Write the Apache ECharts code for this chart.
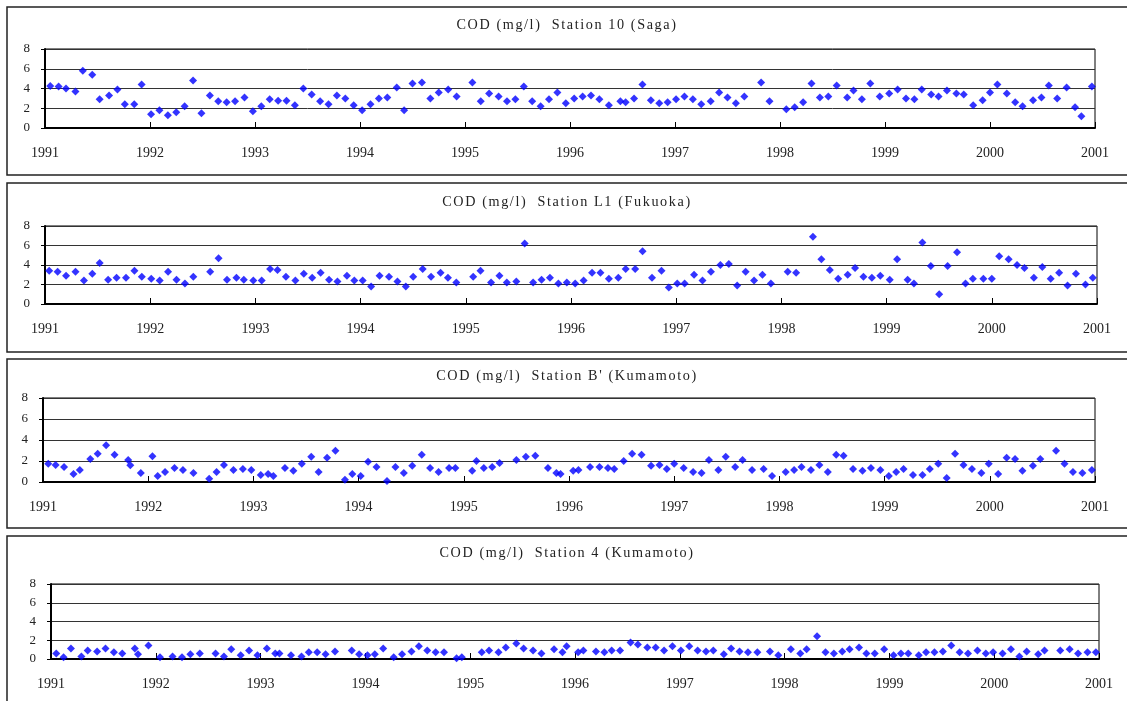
<!DOCTYPE html>
<html>
<head>
<meta charset="utf-8">
<script src="https://cdn.jsdelivr.net/npm/echarts@6/dist/echarts.min.js"></script>
<style>
  html, body { margin: 0; padding: 0; background: #fff; }
  #chart { width: 1127px; height: 701px; }
</style>
</head>
<body>
<div id="chart"></div>
<script>
// sampling dates (decimal years) and COD values, one pair of arrays per station
const sagaYear = [
  1991.05,1991.13,1991.20,1991.29,1991.36,1991.45,1991.52,1991.61,1991.69,1991.76,1991.85,1991.92,
  1992.01,1992.09,1992.17,1992.25,1992.33,1992.41,1992.49,1992.57,1992.65,1992.73,1992.81,1992.90,
  1992.98,1993.06,1993.14,1993.22,1993.30,1993.38,1993.46,1993.54,1993.62,1993.70,1993.78,1993.86,
  1993.94,1994.02,1994.10,1994.18,1994.26,1994.35,1994.42,1994.50,1994.59,1994.67,1994.75,1994.84,1994.92,
  1995.07,1995.15,1995.23,1995.32,1995.40,1995.48,1995.56,1995.64,1995.72,1995.80,1995.88,1995.96,
  1996.04,1996.12,1996.20,1996.28,1996.37,1996.48,1996.53,1996.61,1996.69,1996.77,1996.85,1996.93,
  1997.01,1997.09,1997.17,1997.25,1997.34,1997.42,1997.50,1997.58,1997.66,1997.82,1997.90,
  1998.06,1998.14,1998.22,1998.30,1998.38,1998.46,1998.54,1998.64,1998.70,1998.78,1998.86,1998.95,
  1999.04,1999.12,1999.20,1999.28,1999.35,1999.44,1999.51,1999.59,1999.68,1999.75,1999.84,1999.93,
  2000.00,2000.07,2000.16,2000.24,2000.31,2000.41,2000.49,2000.56,2000.64,2000.73,2000.81,2000.87,2000.97
];
const sagaCOD = [
  4.25,4.2,4.0,3.7,5.8,5.4,2.9,3.3,3.9,2.4,2.4,4.4,
  1.4,1.8,1.3,1.6,2.2,4.8,1.5,3.3,2.7,2.6,2.7,3.1,
  1.7,2.2,2.9,2.75,2.75,2.3,4.0,3.4,2.7,2.4,3.3,3.0,
  2.3,1.8,2.4,3.0,3.1,4.1,1.8,4.5,4.6,3.0,3.6,3.9,3.2,
  4.6,2.7,3.5,3.2,2.7,2.9,4.2,2.7,2.2,2.9,3.6,2.5,
  3.0,3.2,3.3,2.9,2.3,2.7,2.6,3.0,4.4,2.8,2.5,2.6,
  2.9,3.2,2.9,2.4,2.7,3.6,3.1,2.5,3.2,4.6,2.7,
  1.9,2.1,2.6,4.5,3.1,3.2,4.3,3.1,3.8,2.9,4.5,3.2,
  3.5,3.9,3.0,2.9,3.9,3.4,3.2,3.8,3.5,3.4,2.3,2.8,
  3.6,4.4,3.5,2.6,2.2,2.8,3.1,4.3,3.0,4.1,2.1,1.2,4.2
];

const fukuokaYear = [
  1991.04,1991.12,1991.20,1991.29,1991.37,1991.45,1991.52,1991.60,1991.68,1991.77,1991.85,1991.92,
  1992.01,1992.09,1992.17,1992.25,1992.33,1992.41,1992.57,1992.65,1992.73,1992.82,1992.89,1992.98,
  1993.06,1993.14,1993.21,1993.29,1993.38,1993.46,1993.54,1993.62,1993.70,1993.78,1993.87,1993.94,
  1994.02,1994.10,1994.18,1994.27,1994.35,1994.43,1994.50,1994.59,1994.67,1994.76,1994.83,1994.91,
  1995.07,1995.14,1995.24,1995.32,1995.39,1995.48,1995.56,1995.64,1995.72,1995.80,1995.88,1995.96,
  1996.04,1996.12,1996.20,1996.28,1996.36,1996.45,1996.52,1996.61,1996.68,1996.77,1996.86,1996.93,
  1997.01,1997.08,1997.17,1997.25,1997.33,1997.42,1997.50,1997.58,1997.66,1997.74,1997.82,1997.90,
  1998.06,1998.14,1998.30,1998.38,1998.46,1998.54,1998.63,1998.70,1998.78,1998.86,1998.94,
  1999.03,1999.10,1999.20,1999.26,1999.34,1999.42,1999.50,1999.58,1999.67,1999.75,1999.82,1999.92,
  2000.00,2000.07,2000.16,2000.24,2000.31,2000.40,2000.48,2000.56,2000.64,2000.72,2000.80,2000.89,2000.96
];
const fukuokaCOD = [
  3.4,3.3,2.9,3.3,2.4,3.1,4.2,2.5,2.7,2.7,3.4,2.8,
  2.6,2.4,3.3,2.5,2.1,2.8,3.3,4.7,2.5,2.7,2.5,2.4,
  2.4,3.6,3.5,2.8,2.4,3.1,2.7,3.2,2.5,2.3,2.9,2.4,
  2.4,1.8,2.9,2.8,2.3,1.8,2.8,3.6,2.8,3.2,2.7,2.2,
  2.8,3.4,2.2,2.9,2.2,2.3,6.2,2.2,2.5,2.7,2.1,2.2,
  2.1,2.4,3.2,3.2,2.6,2.7,3.6,3.6,5.4,2.7,3.4,1.7,
  2.1,2.1,3.0,2.4,3.3,4.0,4.1,1.9,3.3,2.4,3.0,2.1,
  3.3,3.2,6.9,4.6,3.5,2.6,3.0,3.7,2.8,2.7,2.9,
  2.5,4.6,2.5,2.1,6.3,3.9,1.0,3.9,5.3,2.1,2.6,2.6,
  2.6,4.9,4.6,4.0,3.7,2.7,3.8,2.6,3.2,1.9,3.1,2.0,2.7
];

const kumaBYear = [
  1991.05,1991.12,1991.20,1991.29,1991.35,1991.45,1991.52,1991.60,1991.68,1991.81,1991.83,1991.93,
  1992.04,1992.09,1992.16,1992.25,1992.33,1992.43,1992.58,1992.65,1992.72,1992.81,1992.90,1992.98,
  1993.07,1993.14,1993.19,1993.30,1993.38,1993.46,1993.55,1993.62,1993.70,1993.78,1993.87,1993.94,
  1994.02,1994.09,1994.17,1994.27,1994.35,1994.43,1994.51,1994.60,1994.68,1994.76,1994.86,1994.92,
  1995.08,1995.12,1995.19,1995.27,1995.34,1995.50,1995.59,1995.68,1995.80,1995.88,1995.92,
  1996.04,1996.09,1996.20,1996.29,1996.37,1996.43,1996.52,1996.60,1996.69,1996.78,1996.86,1996.93,
  1997.00,1997.09,1997.18,1997.26,1997.33,1997.42,1997.49,1997.58,1997.65,1997.74,1997.85,1997.93,
  1998.06,1998.14,1998.21,1998.30,1998.38,1998.46,1998.54,1998.61,1998.70,1998.79,1998.87,1998.96,
  1999.04,1999.11,1999.18,1999.27,1999.36,1999.43,1999.51,1999.59,1999.67,1999.75,1999.83,1999.92,1999.99,
  2000.08,2000.16,2000.24,2000.31,2000.41,2000.48,2000.63,2000.71,2000.79,2000.88,2000.97
];
const kumaBCOD = [
  1.73,1.63,1.44,0.77,1.15,2.2,2.7,3.5,2.6,2.1,1.6,0.86,
  2.46,0.58,0.96,1.34,1.15,0.86,0.32,0.96,1.63,1.15,1.25,1.15,
  0.67,0.77,0.58,1.34,1.06,1.73,2.4,0.96,2.3,2.98,0.22,0.77,
  0.58,1.92,1.44,0.1,1.44,0.86,1.54,2.6,1.34,0.96,1.34,1.34,
  1.06,2.0,1.34,1.44,1.82,2.1,2.4,2.5,1.34,0.86,0.77,
  1.06,1.15,1.44,1.44,1.34,1.25,2.0,2.7,2.6,1.54,1.63,1.25,
  1.73,1.34,0.96,0.86,2.1,1.15,2.4,1.44,2.1,1.15,1.25,0.58,
  0.96,1.15,1.44,1.15,1.63,0.96,2.6,2.5,1.25,1.06,1.34,1.15,
  0.58,0.96,1.25,0.67,0.67,1.25,1.73,0.38,2.7,1.63,1.25,0.86,1.73,
  0.77,2.3,2.2,1.06,1.54,2.2,2.98,1.73,0.96,0.86,1.15
];

const kuma4Year = [
  1991.05,1991.12,1991.19,1991.29,1991.35,1991.44,1991.52,1991.60,1991.68,1991.80,1991.83,1991.93,
  1992.04,1992.16,1992.25,1992.33,1992.42,1992.57,1992.65,1992.72,1992.81,1992.89,1992.97,
  1993.06,1993.14,1993.18,1993.29,1993.39,1993.46,1993.54,1993.62,1993.71,1993.87,1993.94,
  1994.02,1994.09,1994.17,1994.27,1994.35,1994.44,1994.51,1994.59,1994.67,1994.75,1994.87,1994.92,
  1995.11,1995.18,1995.27,1995.34,1995.44,1995.51,1995.60,1995.68,1995.80,1995.88,1995.92,
  1996.03,1996.08,1996.20,1996.28,1996.35,1996.43,1996.53,1996.60,1996.69,1996.77,1996.85,1996.93,
  1997.01,1997.09,1997.17,1997.25,1997.32,1997.42,1997.49,1997.57,1997.65,1997.74,1997.86,1997.94,
  1998.06,1998.15,1998.21,1998.31,1998.39,1998.47,1998.55,1998.62,1998.71,1998.78,1998.86,1998.95,
  1999.04,1999.11,1999.18,1999.28,1999.35,1999.43,1999.51,1999.59,1999.67,1999.75,1999.84,1999.92,1999.99,
  2000.08,2000.16,2000.24,2000.31,2000.42,2000.48,2000.63,2000.72,2000.80,2000.89,2000.97
];
const kuma4COD = [
  0.6,0.18,1.13,0.28,0.92,0.81,1.13,0.71,0.6,1.13,0.5,1.45,
  0.18,0.28,0.18,0.5,0.6,0.6,0.28,1.03,0.39,0.92,0.39,
  1.13,0.6,0.6,0.39,0.28,0.71,0.71,0.5,0.81,0.92,0.5,
  0.39,0.5,1.13,0.18,0.5,0.81,1.35,0.92,0.71,0.71,0.07,0.18,
  0.71,0.92,0.71,1.24,1.66,1.13,0.92,0.6,1.03,0.71,1.35,
  0.71,0.92,0.81,0.71,0.92,0.92,1.77,1.56,1.24,1.24,0.92,1.35,
  0.92,1.35,0.92,0.81,0.92,0.5,1.13,0.81,0.71,0.71,0.81,0.39,
  1.03,0.6,1.03,2.44,0.71,0.6,0.81,1.03,1.24,0.6,0.6,1.03,
  0.39,0.6,0.6,0.39,0.71,0.71,0.81,1.45,0.71,0.6,0.92,0.6,0.71,
  0.6,1.03,0.28,0.81,0.5,0.92,0.92,1.03,0.6,0.71,0.71
];

const titles = [
  'COD (mg/l)  Station 10 (Saga)',
  'COD (mg/l)  Station L1 (Fukuoka)',
  "COD (mg/l)  Station B' (Kumamoto)",
  'COD (mg/l)  Station 4 (Kumamoto)'
];
const stations = [
  [sagaYear, sagaCOD],
  [fukuokaYear, fukuokaCOD],
  [kumaBYear, kumaBCOD],
  [kuma4Year, kuma4COD]
];

// panel layout in pixels
const layout = [
  { left: 45, top: 49, width: 1050, height: 79, boxTop: 7, boxH: 168, titleY: 25 },
  { left: 45, top: 226, width: 1052, height: 78, boxTop: 183, boxH: 169, titleY: 202 },
  { left: 43, top: 398, width: 1052, height: 84, boxTop: 359, boxH: 169, titleY: 376 },
  { left: 51, top: 584, width: 1048, height: 75, boxTop: 536, boxH: 200, titleY: 553 }
];

const serif = "'Liberation Serif', 'Times New Roman', serif";
// titles use an odd font size so they alone get the wide letter spacing of the original
const TITLE_FONT = '14.2px ' + serif;

const origFillText = CanvasRenderingContext2D.prototype.fillText;
CanvasRenderingContext2D.prototype.fillText = function (...args) {
  if ('letterSpacing' in this) {
    const f = this.font;
    const want = /^14\.2px/.test(f) ? '1.6px' : '0px';
    if (this.letterSpacing !== want) {
      this.letterSpacing = want;
      this.font = f;
    }
  }
  origFillText.apply(this, args);
};

const chart = echarts.init(document.getElementById('chart'));

const grid = [], xAxis = [], yAxis = [], series = [], graphic = [];

layout.forEach((p, i) => {
  graphic.push({
    type: 'rect', z: -10,
    shape: { x: 7, y: p.boxTop, width: 1140, height: p.boxH },
    style: { fill: 'none', stroke: '#222', lineWidth: 1.5 }
  });
  graphic.push({
    type: 'text', x: 567, y: p.titleY,
    style: {
      text: titles[i], font: TITLE_FONT, fill: '#222',
      align: 'center', verticalAlign: 'middle'
    }
  });
  grid.push({
    left: p.left, top: p.top, width: p.width, height: p.height,
    show: true, borderColor: '#000', borderWidth: 1
  });
  xAxis.push({
    type: 'value', gridIndex: i, min: 1991, max: 2001, interval: 1,
    axisLine: { lineStyle: { color: '#000', width: 2 } },
    axisTick: { inside: true, length: 6, lineStyle: { color: '#000' } },
    axisLabel: { margin: 18, color: '#222', fontSize: 14, fontFamily: serif, formatter: v => String(v) },
    splitLine: { show: false }
  });
  yAxis.push({
    type: 'value', gridIndex: i, min: 0, max: 8, interval: 2,
    axisLine: { show: true, lineStyle: { color: '#000', width: 2 } },
    axisTick: { show: true, length: 4, lineStyle: { color: '#000' } },
    axisLabel: { margin: 15, color: '#222', fontSize: 13, fontFamily: serif },
    splitLine: { lineStyle: { color: '#333', width: 1 } }
  });
  const [yrs, vals] = stations[i];
  series.push({
    type: 'scatter', xAxisIndex: i, yAxisIndex: i,
    symbol: 'diamond', symbolSize: 8, clip: false,
    itemStyle: { color: '#0000ff' },
    data: yrs.map((y, k) => [y, vals[k]])
  });
});

chart.setOption({
  animation: false,
  backgroundColor: '#fff',
  grid, xAxis, yAxis, series, graphic
});
</script>
</body>
</html>
